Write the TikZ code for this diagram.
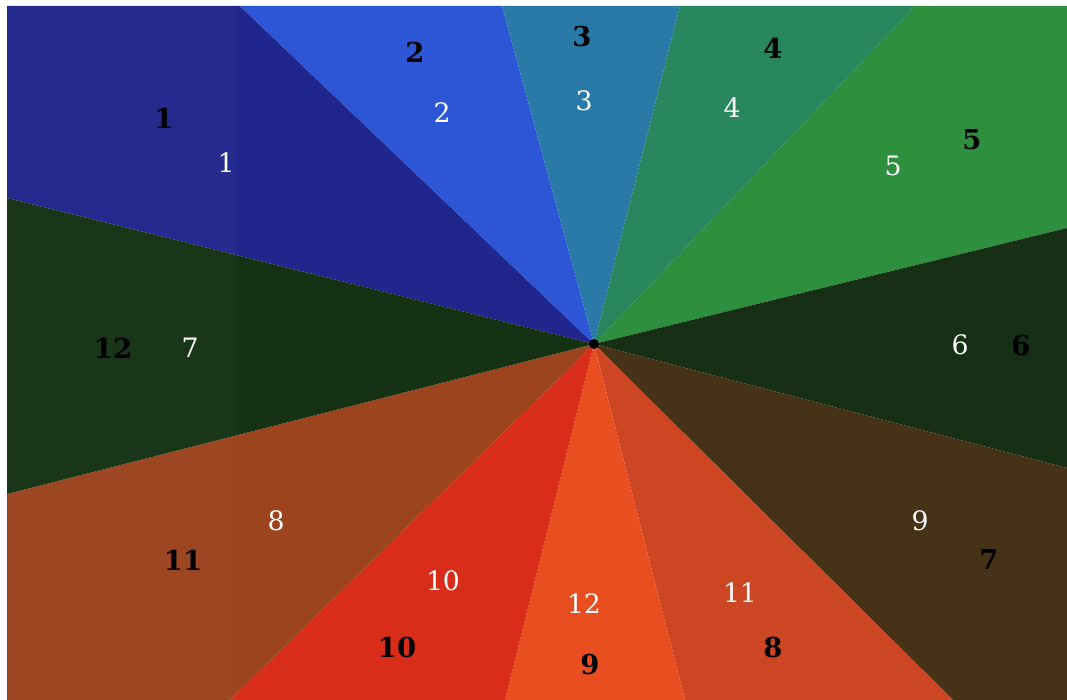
\documentclass[tikz,border=0pt]{standalone}
\usepackage{fontspec}
\usepackage{tikz}
\usetikzlibrary{positioning}

\newfontfamily\digitfont{DejaVu Serif}

\definecolor{wedgeA}{RGB}{32,38,140}
\definecolor{wedgeB}{RGB}{44,86,214}
\definecolor{wedgeC}{RGB}{42,122,168}
\definecolor{wedgeD}{RGB}{40,135,94}
\definecolor{wedgeE}{RGB}{46,143,62}
\definecolor{wedgeF}{RGB}{22,47,21}
\definecolor{wedgeG}{RGB}{70,50,22}
\definecolor{wedgeH}{RGB}{204,70,36}
\definecolor{wedgeI}{RGB}{233,78,32}
\definecolor{wedgeJ}{RGB}{216,45,25}
\definecolor{wedgeK}{RGB}{156,68,30}
\definecolor{wedgeL}{RGB}{22,50,20}

\begin{document}
\begin{tikzpicture}[
                x=0.25mm, y=-0.25mm,
                wedge/.style={draw=none},
                blk/.style={text=black, font=\digitfont\bfseries\fontsize{19.5pt}{19.5pt}\selectfont, inner sep=0pt},
                wht/.style={text=white, font=\digitfont\fontsize{19pt}{19pt}\selectfont, inner sep=0pt},
            ]
            \fill[white] (0,0) rectangle (1067,700);
            \useasboundingbox (0,0) rectangle (1067,700);

            \coordinate (hub) at (594,344);

            % wedges, clockwise from the upper left
            \fill[wedge, wedgeA] (hub) -- (7,198) -- (7,6) -- (240,6) -- cycle;
            \fill[wedge, wedgeB] (hub) -- (240,6) -- (502,6) -- cycle;
            \fill[wedge, wedgeC] (hub) -- (502,6) -- (680,6) -- cycle;
            \fill[wedge, wedgeD] (hub) -- (680,6) -- (915,6) -- cycle;
            \fill[wedge, wedgeE] (hub) -- (915,6) -- (1067,6) -- (1067,228) -- cycle;
            \fill[wedge, wedgeF] (hub) -- (1067,228) -- (1067,468) -- cycle;
            \fill[wedge, wedgeG] (hub) -- (1067,468) -- (1067,700) -- (953,700) -- cycle;
            \fill[wedge, wedgeH] (hub) -- (953,700) -- (685,700) -- cycle;
            \fill[wedge, wedgeI] (hub) -- (685,700) -- (505,700) -- cycle;
            \fill[wedge, wedgeJ] (hub) -- (505,700) -- (230,700) -- cycle;
            \fill[wedge, wedgeK] (hub) -- (230,700) -- (7,700) -- (7,494) -- cycle;
            \fill[wedge, wedgeL] (hub) -- (7,494) -- (7,198) -- cycle;

            % slightly lighter strip on the left
            \fill[white, opacity=0.02] (7,6) rectangle (237,700);

            \fill[black] (hub) circle (5);

            % black numbers
            \node[blk] (b1)  at (164,118) {1};
            \node[blk] (b2)  at (415,52)  {2};
            \node[blk] (b3)  at (582,37)  {3};
            \node[blk] (b4)  at (773,48)  {4};
            \node[blk] (b5)  at (972,140) {5};
            \node[blk] (b6)  at (1021,346) {6};
            \node[blk] (b7)  at (989,560) {7};
            \node[blk] (b8)  at (773,648) {8};
            \node[blk] (b9)  at (590,665) {9};
            \node[blk] (b10) at (397,648) {10};
            \node[blk] (b11) at (183,560) {11};
            \node[blk] (b12) at (113,348) {12};

            % white numbers
            \node[wht] (w1)  at (226,163) {1};
            \node[wht] (w2)  at (442,113) {2};
            \node[wht] (w3)  at (584,101) {3};
            \node[wht] (w4)  at (732,108) {4};
            \node[wht] (w5)  at (893,166) {5};
            \node[wht] (w6)  at (960,345) {6};
            \node[wht] (w7)  at (190,348) {7};
            \node[wht] (w8)  at (276,521) {8};
            \node[wht] (w9)  at (920,521) {9};
            \node[wht] (w10) at (443,581) {10};
            \node[wht] (w11) at (740,593) {11};
            \node[wht] (w12) at (584,604) {12};
        \end{tikzpicture}
\end{document}
